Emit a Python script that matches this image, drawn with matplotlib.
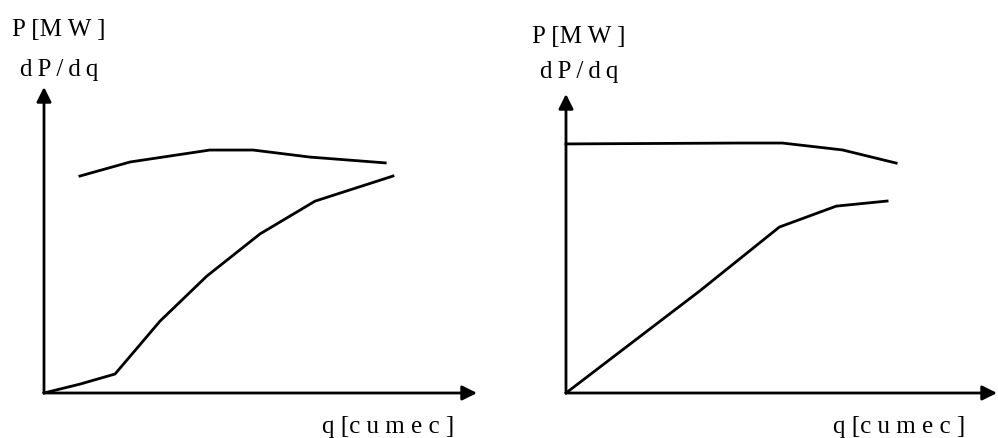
import matplotlib
matplotlib.use('Agg')
import matplotlib.pyplot as plt

# left panel: power curve (upper) and marginal curve (lower), arbitrary units 0..10
left_top_q = [0.83, 1.99, 3.83, 4.83, 6.14, 7.88]
left_top_p = [7.09, 7.55, 7.94, 7.94, 7.71, 7.52]
left_low_q = [0.0, 0.83, 1.64, 2.68, 3.76, 4.99, 6.26, 8.06]
left_low_p = [0.0, 0.29, 0.62, 2.35, 3.82, 5.20, 6.27, 7.09]

# right panel
right_top_q = [0.0, 4.03, 5.02, 6.41, 7.66]
right_top_p = [8.33, 8.36, 8.36, 8.13, 7.69]
right_low_q = [0.0, 1.09, 3.10, 4.95, 6.27, 7.45]
right_low_p = [0.0, 1.20, 3.41, 5.55, 6.25, 6.42]

ylabel_top = 'P [M W ]'
ylabel_bot = 'd\u2009P\u2009/\u2009d\u2009q'
xlabel = 'q [c u m e c ]'

W, H = 998, 439
plt.rcParams['font.family'] = ['Liberation Serif', 'DejaVu Serif']
fig = plt.figure(figsize=(W / 100, H / 100), dpi=100)


def px_axes(x0, y0, x1, y1):
    # x0,y0 = origin pixel; x1 = x-arrow tip; y1 = y-arrow tip (pixels from top)
    return fig.add_axes([x0 / W, 1 - y0 / H, (x1 - x0) / W, (y0 - y1) / H])


def draw_panel(ax, tq, tp, lq, lp):
    ax.set_xlim(0, 10)
    ax.set_ylim(0, 10)
    ax.axis('off')
    arrow = dict(arrowstyle='-|>', mutation_scale=22, color='black', lw=2.0,
                 shrinkA=0, shrinkB=0)
    ax.annotate('', xy=(1, 0), xytext=(0, 0), xycoords='axes fraction',
                arrowprops=arrow, annotation_clip=False)
    ax.annotate('', xy=(0, 1), xytext=(0, 0), xycoords='axes fraction',
                arrowprops=arrow, annotation_clip=False)
    ax.plot(tq, tp, color='black', lw=2.0, clip_on=False, solid_joinstyle='round')
    ax.plot(lq, lp, color='black', lw=2.0, clip_on=False, solid_joinstyle='round')


ax1 = px_axes(44, 394, 477, 88)
draw_panel(ax1, left_top_q, left_top_p, left_low_q, left_low_p)
ax2 = px_axes(566, 394, 997, 95)
draw_panel(ax2, right_top_q, right_top_p, right_low_q, right_low_p)

fs = 18
fig.text(12 / W, 1 - 30 / H, ylabel_top, fontsize=fs, va='center', ha='left')
fig.text(20 / W, 1 - 70 / H, ylabel_bot, fontsize=fs, va='center', ha='left')
fig.text(322 / W, 1 - 427 / H, xlabel, fontsize=fs, va='center', ha='left')
fig.text(532 / W, 1 - 37 / H, ylabel_top, fontsize=fs, va='center', ha='left')
fig.text(540 / W, 1 - 72 / H, ylabel_bot, fontsize=fs, va='center', ha='left')
fig.text(833 / W, 1 - 427 / H, xlabel, fontsize=fs, va='center', ha='left')

fig.savefig('out.png', dpi=100)
